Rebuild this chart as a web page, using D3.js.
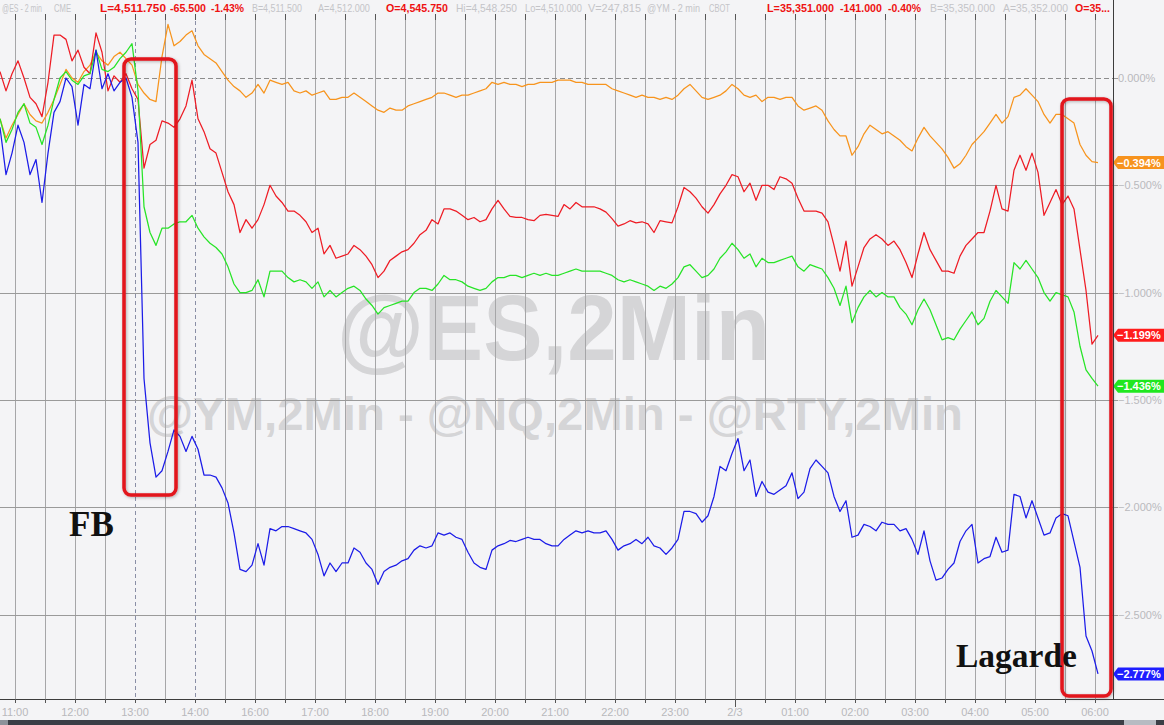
<!DOCTYPE html>
<html><head><meta charset="utf-8">
<script src="https://cdn.jsdelivr.net/npm/d3@7"></script>
<style>html,body{margin:0;padding:0;background:#f4f4f6;overflow:hidden}</style>
</head><body><svg id="c" width="1164" height="725"></svg>
<script>
// ---------- DATA (percent change, one value every 6 minutes of session time) ----------
const STEP_MIN = 6;
const ORANGE = [
 -0.19,-0.28,-0.22,-0.17,-0.12,-0.17,-0.20,-0.21,-0.16,-0.10,
 -0.03,0.04,0.00,-0.02,0.03,0.06,0.12,0.08,0.06,0.10,
 0.12,0.09,0.06,-0.03,-0.07,-0.10,-0.11,0.10,0.25,0.15,
 0.17,0.20,0.22,0.15,0.11,0.09,0.07,0.03,-0.01,-0.04,
 -0.06,-0.09,-0.07,-0.03,-0.07,-0.01,-0.02,-0.03,-0.02,-0.06,
 -0.07,-0.06,-0.08,-0.07,-0.06,-0.10,-0.10,-0.09,-0.09,-0.07,
 -0.09,-0.11,-0.13,-0.15,-0.16,-0.14,-0.15,-0.15,-0.13,-0.12,
 -0.11,-0.10,-0.09,-0.07,-0.07,-0.08,-0.09,-0.08,-0.08,-0.07,
 -0.06,-0.05,-0.02,-0.03,-0.02,-0.03,-0.03,-0.04,-0.03,-0.03,
 -0.02,-0.02,-0.02,-0.01,-0.01,-0.01,-0.02,-0.02,-0.03,-0.03,
 -0.03,-0.03,-0.05,-0.06,-0.07,-0.08,-0.09,-0.08,-0.09,-0.09,
 -0.10,-0.09,-0.10,-0.08,-0.05,-0.03,-0.06,-0.09,-0.10,-0.09,
 -0.08,-0.06,-0.03,-0.05,-0.08,-0.09,-0.08,-0.11,-0.09,-0.09,
 -0.10,-0.09,-0.09,-0.13,-0.15,-0.14,-0.13,-0.15,-0.20,-0.24,
 -0.27,-0.27,-0.36,-0.32,-0.26,-0.22,-0.24,-0.26,-0.25,-0.27,
 -0.29,-0.32,-0.34,-0.28,-0.23,-0.27,-0.30,-0.33,-0.37,-0.42,
 -0.40,-0.36,-0.31,-0.28,-0.25,-0.21,-0.17,-0.21,-0.18,-0.09,
 -0.08,-0.05,-0.08,-0.11,-0.17,-0.21,-0.17,-0.17,-0.19,-0.21,
 -0.31,-0.36,-0.39,-0.394
];
const RED = [
 0.03,-0.06,0.02,0.08,0.00,-0.09,-0.12,-0.18,-0.02,0.20,
 0.20,0.18,0.08,0.13,0.05,0.02,0.21,0.12,-0.06,0.01,
 -0.02,0.02,-0.05,-0.10,-0.42,-0.31,-0.29,-0.20,-0.21,-0.23,
 -0.19,-0.13,-0.01,-0.19,-0.25,-0.33,-0.35,-0.44,-0.53,-0.59,
 -0.72,-0.66,-0.70,-0.66,-0.59,-0.50,-0.55,-0.58,-0.62,-0.62,
 -0.64,-0.67,-0.72,-0.70,-0.82,-0.78,-0.84,-0.83,-0.82,-0.78,
 -0.80,-0.83,-0.87,-0.93,-0.90,-0.85,-0.83,-0.81,-0.80,-0.77,
 -0.73,-0.71,-0.66,-0.68,-0.61,-0.61,-0.62,-0.64,-0.66,-0.65,
 -0.67,-0.66,-0.61,-0.57,-0.61,-0.645,-0.65,-0.65,-0.66,-0.665,
 -0.64,-0.635,-0.64,-0.645,-0.59,-0.61,-0.58,-0.60,-0.60,-0.60,
 -0.61,-0.625,-0.655,-0.69,-0.68,-0.665,-0.675,-0.67,-0.68,-0.72,
 -0.665,-0.67,-0.675,-0.60,-0.51,-0.53,-0.56,-0.60,-0.63,-0.59,
 -0.54,-0.50,-0.45,-0.46,-0.53,-0.49,-0.57,-0.50,-0.50,-0.52,
 -0.46,-0.47,-0.49,-0.56,-0.62,-0.62,-0.62,-0.63,-0.67,-0.78,
 -0.90,-0.76,-0.97,-0.88,-0.79,-0.75,-0.73,-0.75,-0.78,-0.76,
 -0.80,-0.86,-0.93,-0.82,-0.72,-0.80,-0.85,-0.90,-0.90,-0.91,
 -0.83,-0.78,-0.75,-0.72,-0.72,-0.62,-0.50,-0.61,-0.62,-0.43,
 -0.36,-0.43,-0.35,-0.44,-0.64,-0.58,-0.52,-0.59,-0.55,-0.61,
 -0.80,-0.99,-1.24,-1.199
];
const GREEN = [
 -0.19,-0.30,-0.24,-0.16,-0.12,-0.21,-0.23,-0.31,-0.22,-0.10,
 0.00,0.03,-0.01,-0.03,0.01,0.02,0.13,0.04,0.03,0.05,
 0.09,0.12,0.16,-0.06,-0.60,-0.72,-0.78,-0.70,-0.70,-0.68,
 -0.67,-0.67,-0.64,-0.70,-0.74,-0.77,-0.79,-0.82,-0.88,-0.96,
 -1.00,-1.00,-0.99,-0.94,-1.02,-0.90,-0.90,-0.90,-0.93,-0.95,
 -0.94,-0.95,-0.98,-0.95,-1.02,-0.99,-1.02,-1.00,-0.98,-0.97,
 -0.99,-1.03,-1.06,-1.10,-1.07,-1.06,-1.05,-1.04,-1.04,-1.00,
 -0.98,-0.98,-0.99,-0.96,-0.92,-0.94,-0.94,-0.95,-0.97,-0.98,
 -0.99,-0.98,-0.95,-0.93,-0.93,-0.92,-0.92,-0.93,-0.92,-0.91,
 -0.92,-0.91,-0.92,-0.92,-0.91,-0.90,-0.89,-0.90,-0.90,-0.90,
 -0.90,-0.91,-0.92,-0.94,-0.95,-0.94,-0.95,-0.96,-0.97,-0.99,
 -0.97,-0.98,-0.96,-0.93,-0.88,-0.87,-0.90,-0.93,-0.92,-0.89,
 -0.84,-0.81,-0.77,-0.80,-0.84,-0.82,-0.88,-0.84,-0.86,-0.86,
 -0.85,-0.84,-0.83,-0.88,-0.90,-0.87,-0.88,-0.89,-0.93,-0.98,
 -1.06,-0.97,-1.14,-1.07,-1.02,-0.99,-1.02,-1.00,-1.02,-1.02,
 -1.07,-1.10,-1.15,-1.08,-1.03,-1.08,-1.15,-1.22,-1.21,-1.22,
 -1.17,-1.13,-1.09,-1.15,-1.12,-1.04,-0.99,-1.02,-1.05,-0.86,
 -0.89,-0.85,-0.89,-0.93,-1.00,-1.04,-1.00,-1.01,-1.02,-1.09,
 -1.25,-1.36,-1.40,-1.436
];
const BLUE = [
 -0.23,-0.45,-0.35,-0.22,-0.30,-0.45,-0.38,-0.58,-0.35,-0.16,
 -0.11,0.00,-0.04,-0.22,-0.03,-0.05,0.13,-0.05,0.02,-0.06,
 -0.02,0.00,-0.09,-0.30,-1.40,-1.70,-1.86,-1.83,-1.74,-1.64,
 -1.67,-1.74,-1.67,-1.73,-1.85,-1.85,-1.86,-1.91,-1.98,-2.12,
 -2.29,-2.30,-2.27,-2.17,-2.27,-2.10,-2.11,-2.09,-2.09,-2.10,
 -2.11,-2.12,-2.15,-2.22,-2.32,-2.26,-2.30,-2.26,-2.26,-2.19,
 -2.21,-2.26,-2.29,-2.36,-2.30,-2.28,-2.27,-2.25,-2.24,-2.20,
 -2.18,-2.19,-2.18,-2.12,-2.13,-2.12,-2.14,-2.15,-2.21,-2.26,
 -2.28,-2.29,-2.20,-2.18,-2.17,-2.155,-2.16,-2.15,-2.14,-2.15,
 -2.15,-2.17,-2.18,-2.18,-2.15,-2.13,-2.11,-2.12,-2.11,-2.12,
 -2.12,-2.11,-2.15,-2.20,-2.18,-2.17,-2.15,-2.17,-2.14,-2.18,
 -2.19,-2.22,-2.19,-2.15,-2.02,-2.02,-2.03,-2.07,-2.04,-1.95,
 -1.81,-1.83,-1.75,-1.68,-1.83,-1.78,-1.95,-1.88,-1.93,-1.94,
 -1.92,-1.90,-1.84,-1.96,-1.93,-1.82,-1.78,-1.81,-1.84,-1.95,
 -2.02,-1.97,-2.14,-2.13,-2.08,-2.09,-2.11,-2.07,-2.08,-2.08,
 -2.11,-2.10,-2.15,-2.22,-2.11,-2.25,-2.34,-2.33,-2.29,-2.26,
 -2.16,-2.11,-2.08,-2.26,-2.24,-2.23,-2.14,-2.21,-2.20,-1.94,
 -1.95,-2.05,-1.97,-2.05,-2.13,-2.12,-2.05,-2.03,-2.04,-2.16,
 -2.28,-2.60,-2.67,-2.777
];
const TIME_LABELS = ["11:00","12:00","13:00","14:00","16:00","17:00","18:00","19:00","20:00",
  "21:00","22:00","23:00","2/3","01:00","02:00","03:00","04:00","05:00","06:00"];
const Y_TICKS = [0, -0.5, -1.0, -1.5, -2.0, -2.5];
const HEADER_TEXT = ["@ES - 2 min","CME","L=4,511.750","-65.500","-1.43%","B=4,511.500","A=4,512.000",
  "O=4,545.750","Hi=4,548.250","Lo=4,510.000","V=247,815","@YM - 2 min","CBOT","L=35,351.000",
  "-141.000","-0.40%","B=35,350.000","A=35,352.000","O=35..."];
const HEADER_HOT = [false,false,true,true,true,false,false,true,false,false,false,false,false,true,true,true,false,false,true];
const WATERMARK = ["@ES,2Min", "@YM,2Min - @NQ,2Min - @RTY,2Min"];
const NOTES = ["FB", "Lagarde"];

// ---------- LAYOUT ----------
const W = 1164, H = 725, PR = 1113, PB = 699;
const BG = "#f4f4f6";
const COLORS = {orange:"#f7941d", red:"#ee1c25", green:"#27e427", blue:"#1c1ce8"};
const TAGC = {orange:"#f7931e", red:"#ff1c1c", green:"#1fe81f", blue:"#1e1eff"};

const svg = d3.select("#c");
const defs = svg.append("defs");
defs.append("clipPath").attr("id","plot").append("rect").attr("x",0).attr("y",14).attr("width",PR).attr("height",PB-14);
const f = defs.append("filter").attr("id","sh").attr("x","-20%").attr("y","-5%").attr("width","140%").attr("height","110%");
f.append("feDropShadow").attr("dx",1).attr("dy",1).attr("stdDeviation",1.6).attr("flood-color","#000").attr("flood-opacity",0.28);

const x = d3.scaleLinear().domain([0, PR]).range([0, PR]);
const y = d3.scaleLinear().domain([0, -2.5]).range([78, 614.5]);

svg.append("rect").attr("width",W).attr("height",H).attr("fill",BG);

// watermark
svg.append("text").attr("x",337).attr("y",360).attr("font-family","Liberation Sans, Arial, sans-serif")
  .attr("font-weight","bold").attr("font-size",92).attr("fill","#d5d5d7")
  .attr("textLength",433).attr("lengthAdjust","spacingAndGlyphs").text(WATERMARK[0]);
svg.append("text").attr("x",147).attr("y",430).attr("font-family","Liberation Sans, Arial, sans-serif")
  .attr("font-weight","bold").attr("font-size",46).attr("fill","#d5d5d7")
  .attr("textLength",816).attr("lengthAdjust","spacingAndGlyphs").text(WATERMARK[1]);

// grid
const halfHours = d3.range(15, PR, 30);
const sessionMarks = [135, 195];
svg.append("g").selectAll("line").data(halfHours).join("line")
  .attr("x1", d => Math.round(x(d)) + 0.5).attr("x2", d => Math.round(x(d)) + 0.5)
  .attr("y1", 14).attr("y2", PB)
  .attr("stroke", d => sessionMarks.includes(d) ? "#8a8fa6" : "#a6a6a8")
  .attr("stroke-dasharray", d => sessionMarks.includes(d) ? "4,3" : null)
  .attr("stroke-width", 1);
svg.append("g").selectAll("line").data(Y_TICKS).join("line")
  .attr("x1", 0).attr("x2", PR)
  .attr("y1", d => Math.round(y(d)) + 0.5).attr("y2", d => Math.round(y(d)) + 0.5)
  .attr("stroke", d => d === 0 ? "#8c8c8c" : "#9a9a9a")
  .attr("stroke-dasharray", d => d === 0 ? "5,3" : null);

// series
const series = [["orange",ORANGE],["red",RED],["green",GREEN],["blue",BLUE]];
const line = d3.line().x((d,i) => x(i*STEP_MIN)).y(d => y(d));
const gl = svg.append("g").attr("clip-path","url(#plot)");
series.forEach(([k, arr]) => {
  gl.append("path").datum(arr).attr("d", line).attr("fill","none")
    .attr("stroke", COLORS[k]).attr("stroke-width",1.25).attr("stroke-linejoin","round");
});

// annotation boxes
svg.append("rect").attr("x",124).attr("y",59).attr("width",52).attr("height",436).attr("rx",7)
  .attr("fill","none").attr("stroke","#e2141e").attr("stroke-width",3.5).attr("filter","url(#sh)");
svg.append("rect").attr("x",1062).attr("y",99).attr("width",49).attr("height",597).attr("rx",7)
  .attr("fill","none").attr("stroke","#e2141e").attr("stroke-width",3.5).attr("filter","url(#sh)");
svg.append("text").attr("x",69).attr("y",536).attr("font-family","Liberation Serif, Times New Roman, serif")
  .attr("font-weight","bold").attr("font-size",35).attr("fill","#111").text(NOTES[0]);
svg.append("text").attr("x",956).attr("y",667).attr("font-family","Liberation Serif, Times New Roman, serif")
  .attr("font-weight","bold").attr("font-size",34).attr("fill","#111")
  .attr("textLength",121).attr("lengthAdjust","spacingAndGlyphs").text(NOTES[1]);

// bottom axis
svg.append("line").attr("x1",0).attr("x2",W).attr("y1",PB+0.5).attr("y2",PB+0.5).attr("stroke","#3c3c3c");
svg.append("g").selectAll("line").data(halfHours).join("line")
  .attr("x1", d => Math.round(x(d)) + 0.5).attr("x2", d => Math.round(x(d)) + 0.5)
  .attr("y1", PB).attr("y2", d => d === 735 ? PB + 8 : PB + 4).attr("stroke","#555");
svg.append("g").selectAll("text").data(TIME_LABELS).join("text")
  .attr("x", (d,i) => x(15 + 60*i)).attr("y", 716)
  .attr("text-anchor","middle").attr("font-family","Liberation Sans, Arial, sans-serif")
  .attr("font-size",11).attr("fill","#b8b8bc").text(d => d);

// right axis
const fmt = d3.format(".3f");
svg.append("g").selectAll("line").data(Y_TICKS).join("line")
  .attr("x1",PR).attr("x2",PR+5).attr("y1", d => Math.round(y(d))+0.5).attr("y2", d => Math.round(y(d))+0.5)
  .attr("stroke","#9a9a9a");
svg.append("g").selectAll("text").data(Y_TICKS).join("text")
  .attr("x", PR+5).attr("y", d => y(d)+4)
  .attr("font-family","Liberation Sans, Arial, sans-serif").attr("font-size",11)
  .attr("fill","#b9b9bd").text(d => fmt(d === 0 ? 0 : d) + "%");

// value tags
series.forEach(([k, arr]) => {
  const v = arr[arr.length-1], cy = y(v);
  svg.append("path")
    .attr("d", `M${PR},${cy} L${PR+5},${cy-6.5} L${W},${cy-6.5} L${W},${cy+6.5} L${PR+5},${cy+6.5} Z`)
    .attr("fill", TAGC[k]);
  svg.append("text").attr("x", PR+4).attr("y", cy+4)
    .attr("font-family","Liberation Sans, Arial, sans-serif").attr("font-weight","bold")
    .attr("font-size",11).attr("fill","#fff").text(fmt(v) + "%");
});

// header
svg.append("rect").attr("x",0).attr("y",0).attr("width",W).attr("height",14).attr("fill",BG);
svg.append("g").selectAll("line").data(halfHours).join("line")
  .attr("x1", d => Math.round(x(d)) + 0.5).attr("x2", d => Math.round(x(d)) + 0.5)
  .attr("y1", 14).attr("y2", 20).attr("stroke","#555");
const HX   = [2, 54,100,170,211,252,318,386,456,525,588,647,709,767,840,888,930,1003,1075];
const HWID = [40,17, 66, 36, 33, 50, 52, 62, 61, 57, 53, 53, 21, 67, 42, 33, 65, 65, 35];
HEADER_TEXT.forEach((t,i) => {
  const el = svg.append("text").attr("x", 0).attr("y", 0)
    .attr("font-family","Liberation Sans, Arial, sans-serif")
    .attr("font-size", 11)
    .attr("font-weight", HEADER_HOT[i] ? "bold" : "normal")
    .attr("fill", HEADER_HOT[i] ? "#ee1111" : "#c4c4c8").text(t);
  const nat = el.node().getComputedTextLength() || HWID[i];
  el.attr("transform", `translate(${HX[i]},12) scale(${HWID[i]/nat},1)`);
});
svg.append("line").attr("x1",PR+0.5).attr("x2",PR+0.5).attr("y1",0).attr("y2",PB+1).attr("stroke","#3c3c3c");

// bottom scroll bar
svg.append("rect").attr("x",0).attr("y",720).attr("width",W).attr("height",5).attr("fill","#3a3e46");
svg.append("rect").attr("x",0).attr("y",720).attr("width",8).attr("height",5).attr("fill","#8c929a");
svg.append("rect").attr("x",1124).attr("y",720).attr("width",32).attr("height",5).attr("fill","#b6bbc2");
</script></body></html>
